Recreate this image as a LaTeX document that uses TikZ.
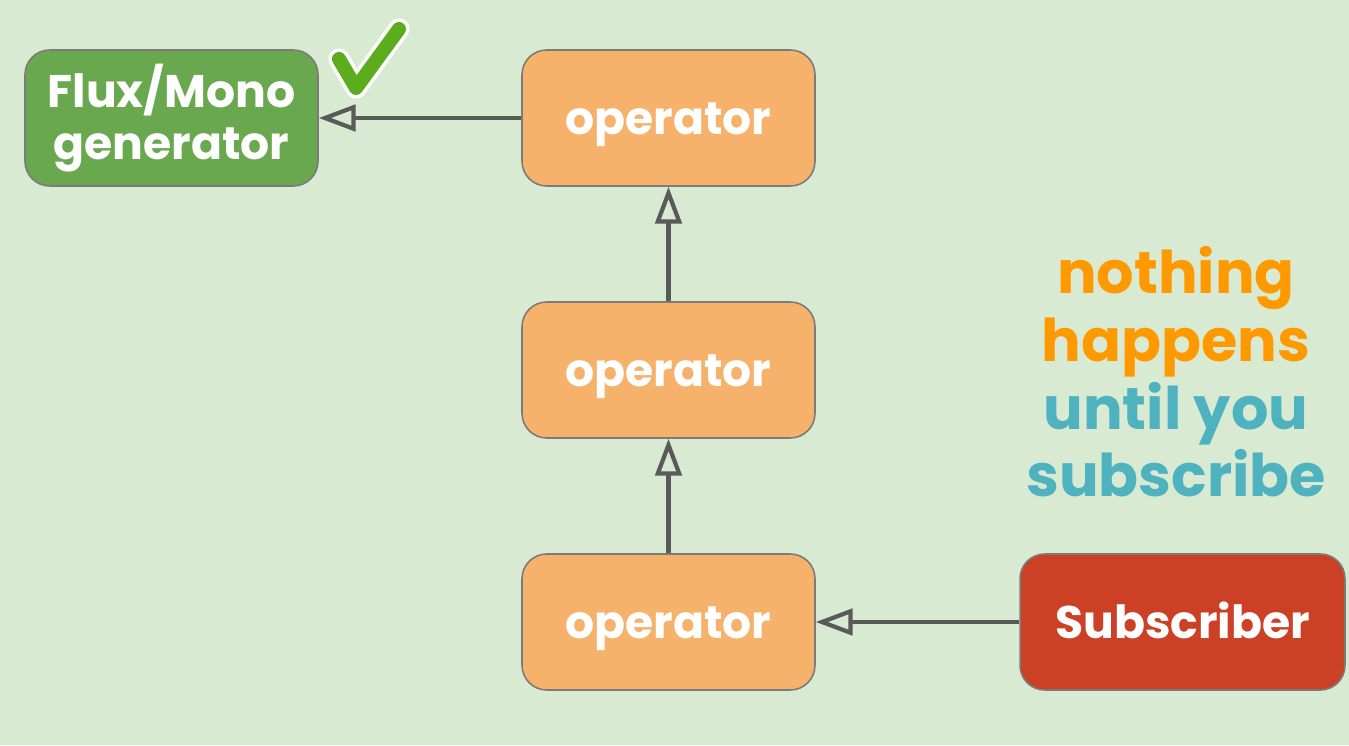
\documentclass[tikz,border=0pt]{standalone}
\usepackage{fontspec}
\setmainfont{Poppins}
\usetikzlibrary{arrows.meta}
\definecolor{bgcol}{HTML}{D9EAD3}
\definecolor{gencol}{HTML}{6AA84F}
\definecolor{opcol}{HTML}{F6B26B}
\definecolor{subcol}{HTML}{CC4125}
\definecolor{edgecol}{HTML}{5A5A5A}
\definecolor{hotcol}{HTML}{FF9900}
\definecolor{coolcol}{HTML}{4FB3BF}
\definecolor{tickcol}{HTML}{5CAD1E}
\begin{document}
\begin{tikzpicture}[x=.02cm,y=.02cm,
 box/.style={draw=edgecol!80,line width=.9pt,rounded corners=14pt,minimum height=2.72cm,text=white,font=\fontsize{26}{30}\selectfont\bfseries,align=center,inner sep=0pt},
 opbox/.style={box,text height=19pt,text depth=0pt},
 flow/.style={-{Triangle[open,length=21pt,width=15pt,line width=2.4pt]},line width=2.8pt,draw=edgecol}]
 \fill[bgcol] (0,0) rectangle (1349,745);
 \path[use as bounding box] (0,0) rectangle (1349,745);
 \node[box,fill=gencol,minimum width=5.86cm] (gen) at (171.5,627) {Flux/Mono\\generator};
 \foreach \n/\y in {top/627,mid/375,bot/123}
  \node[opbox,fill=opcol,minimum width=5.86cm] (op\n) at (668.5,\y) {operator};
 \node[opbox,fill=subcol,minimum width=6.5cm] (sub) at (1182.5,123) {Subscriber};
 \draw[flow] (optop.west) -- (gen.east);
 \draw[flow] (opmid.north) -- (optop.south);
 \draw[flow] (opbot.north) -- (opmid.south);
 \draw[flow] (sub.west) -- (opbot.east);
 \draw[white,line width=12pt,line cap=round,line join=round] (339,686)--(356,657)--(399,716);
 \draw[tickcol,line width=8pt,line cap=round,line join=round] (339,686)--(356,657)--(399,716);
 \node[font=\fontsize{33.5}{38.5}\selectfont\bfseries,align=center] (note) at (1176,373)
  {\textcolor{hotcol}{nothing}\\\textcolor{hotcol}{happens}\\\textcolor{coolcol}{until you}\\\textcolor{coolcol}{subscribe}};
\end{tikzpicture}
\end{document}
